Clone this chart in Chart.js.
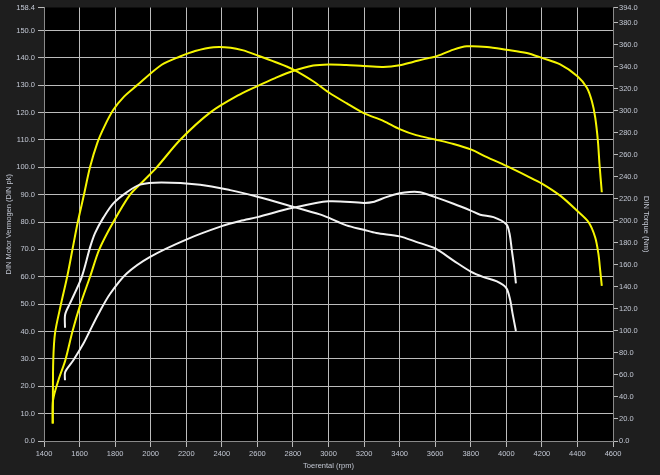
<!DOCTYPE html>
<html>
<head>
<meta charset="utf-8">
<script src="https://cdn.jsdelivr.net/npm/chart.js@4"></script>
<style>
  html, body { margin: 0; padding: 0; background: #1e1e1e; }
  #wrap { width: 660px; height: 475px; }
</style>
</head>
<body>
<div id="wrap"><canvas id="dyno" width="660" height="475"></canvas></div>
<script>
/* ---- data ---- */

// tuned power (pk, left axis)
const rpmTunedPower = [1449,1451,1481,1520,1560,1605,1659,1711,1790,1884,1959,2034,2165,2334,2503,2600,2700,2800,2914,3000,3100,3198,3308,3400,3475,3568,3600,3703,3778,3891,4000,4115,4200,4303,4400,4453,4481,4500,4515,4524,4537];
const tunedPower = [6.4,14.9,22.2,29.5,40,50,60,70,80,90,95,100,110,120,126.7,129.7,132.6,135.2,137.2,137.6,137.4,137,136.7,137.3,138.5,140,140.4,143,144.2,144,143,141.8,140,137.6,133.3,129.1,124.2,118.2,109.7,101.2,90.9];

// tuned torque (Nm, right axis)
const rpmTunedTorque = [1449,1450,1452,1462,1495,1530,1560,1590,1625,1659,1700,1740,1790,1850,1921,2062,2165,2250,2353,2450,2521,2600,2700,2800,2914,3000,3101,3198,3308,3400,3493,3600,3703,3800,3891,4000,4115,4200,4303,4400,4462,4500,4518,4528,4537];
const tunedTorque = [16,37,73,98,124,149,174,199,224,249,271,286,301,313,323,342,349.5,354.5,357.9,357.5,355,350.5,344.5,337.8,327,317,307,298,291,283.5,278,274,270,265,258,250,241,234,223,209,199,185,170,155,141];

// stock power (pk, left axis)
const rpmStockPower = [1518,1519,1565,1621,1659,1706,1771,1865,1997,2203,2400,2503,2600,2800,3000,3198,3250,3325,3400,3456,3516,3600,3703,3800,3853,3928,4000,4018,4031,4044,4054];
const stockPower = [22.2,25.2,29.5,35.5,40.4,46.4,53.7,61.2,67.3,73.7,78.5,80.4,81.8,85.2,87.6,87,87.3,89.1,90.5,91,90.9,89.1,86.7,84.2,82.7,81.8,79.2,75.8,69.7,63.6,57.6];

// stock torque (Nm, right axis)
const rpmStockTorque = [1518,1519,1546,1612,1659,1687,1734,1790,1865,1940,2060,2278,2447,2600,2800,2951,3000,3101,3198,3269,3400,3493,3600,3703,3800,3872,3947,4000,4022,4035,4054];
const stockTorque = [103,115,125,149,176,189,203,216,226,233,235,233,228,222,213,206,203,196,192,189,186,181,175,164,154,149,145,139,128,116,100];

// axis ticks
const rpmTicks = [1400,1600,1800,2000,2200,2400,2600,2800,3000,3200,3400,3600,3800,4000,4200,4400,4600];
const pkTicks = [0,10,20,30,40,50,60,70,80,90,100,110,120,130,140,150,158.4];
const nmTicks = [0,20,40,60,80,100,120,140,160,180,200,220,240,260,280,300,320,340,360,380,394];

/* ---- helpers ---- */

const toPoints = (xs, ys) => xs.map((x, i) => ({ x, y: ys[i] }));

const TEXT = "#c3c8d4";
const GRID = "#bcbcbc";
const FONT = { family: "'Liberation Sans', Arial, sans-serif", size: 7.5 };

const bgPlugin = {
  id: "bg",
  beforeDraw(chart) {
    const { ctx, chartArea: a } = chart;
    ctx.save();
    ctx.fillStyle = "#1e1e1e";
    ctx.fillRect(0, 0, chart.width, chart.height);
    ctx.fillStyle = "#000000";
    ctx.fillRect(a.left, a.top, a.right - a.left, a.bottom - a.top);
    ctx.restore();
  }
};

function line(data, color, axis) {
  return {
    data,
    yAxisID: axis,
    borderColor: color,
    borderWidth: 2,
    pointRadius: 0,
    tension: 0.3,
    fill: false
  };
}

/* ---- chart ---- */

new Chart(document.getElementById("dyno"), {
  type: "line",
  data: {
    datasets: [
      line(toPoints(rpmStockPower, stockPower), "#f2f2f2", "y"),
      line(toPoints(rpmStockTorque, stockTorque), "#f2f2f2", "y1"),
      line(toPoints(rpmTunedPower, tunedPower), "#f5f500", "y"),
      line(toPoints(rpmTunedTorque, tunedTorque), "#f5f500", "y1")
    ]
  },
  options: {
    responsive: false,
    animation: false,
    layout: { padding: { top: 5, left: 0, right: 0, bottom: 0 } },
    plugins: {
      legend: { display: false },
      tooltip: { enabled: false }
    },
    scales: {
      x: {
        type: "linear",
        min: 1400,
        max: 4600,
        afterBuildTicks: s => { s.ticks = rpmTicks.map(v => ({ value: v })); },
        afterFit: s => { s.height = 34; },
        grid: { color: GRID, tickColor: GRID, tickLength: 6, lineWidth: 1 },
        border: { color: "#8a8a8a" },
        ticks: { color: TEXT, font: FONT, padding: 2, maxRotation: 0, autoSkip: false, callback: v => String(v) },
        title: { display: true, text: "Toerental (rpm)", color: TEXT, font: FONT, padding: { top: 0, bottom: 5 } }
      },
      y: {
        position: "left",
        min: 0,
        max: 158.4,
        afterBuildTicks: s => { s.ticks = pkTicks.map(v => ({ value: v })); },
        afterFit: s => { s.width = 44; },
        grid: {
          color: c => (c.tick && c.tick.value > 155 ? "rgba(0,0,0,0)" : GRID),
          tickColor: GRID,
          tickLength: 6,
          lineWidth: 1
        },
        border: { color: "#8a8a8a" },
        ticks: { color: TEXT, font: FONT, padding: 3, autoSkip: false, callback: v => Number(v).toFixed(1) },
        title: { display: true, text: "DIN Motor Vermogen (DIN pk)", color: TEXT, font: FONT, padding: { top: 4, bottom: 0 } }
      },
      y1: {
        position: "right",
        min: 0,
        max: 394,
        afterBuildTicks: s => { s.ticks = nmTicks.map(v => ({ value: v })); },
        afterFit: s => { s.width = 47; },
        grid: { drawOnChartArea: false, tickColor: GRID, tickLength: 5 },
        border: { color: "#8a8a8a" },
        ticks: { color: TEXT, font: FONT, padding: 1, autoSkip: false, callback: v => Number(v).toFixed(1) },
        title: { display: true, text: "DIN Torque (Nm)", color: TEXT, font: FONT, padding: { top: 9, bottom: 0 } }
      }
    }
  },
  plugins: [bgPlugin]
});
</script>
</body>
</html>
